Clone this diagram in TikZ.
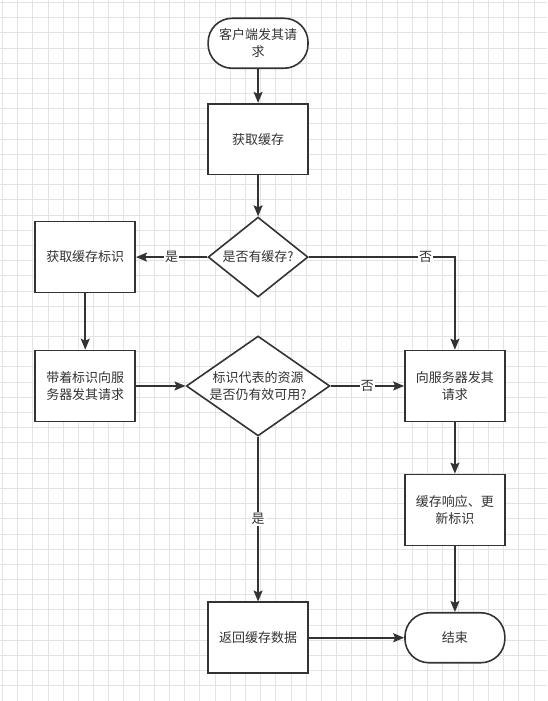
\documentclass[tikz,border=0pt]{standalone}
\usepackage{fontspec}
\setmainfont{Noto Sans CJK SC}
\usetikzlibrary{shapes.geometric, arrows.meta, positioning}
\definecolor{linegray}{HTML}{333333}
\definecolor{gridgray}{HTML}{E3E3E3}
\tikzset{
    % Flowchart Styles
    startstop/.style={rectangle, rounded corners=24pt, minimum width=100pt, minimum height=50pt, text centered, align=center, draw=linegray, line width=1.6pt, fill=white},
    process/.style={rectangle, minimum width=100pt, minimum height=71pt, text centered, align=center, draw=linegray, line width=1.6pt, fill=white},
    decision/.style={diamond, inner sep=0pt, text centered, align=center, draw=linegray, line width=1.6pt, fill=white},
    arrow/.style={line width=1.6pt, draw=linegray, -{Stealth[length=11pt, width=9pt, inset=2pt]}},
    lbl/.style={fill=white, inner sep=1pt, text=linegray}
}

\begin{document}
\begin{tikzpicture}[x=1pt, y=-1pt, every node/.style={text=linegray, font=\fontsize{13}{17}\selectfont}]
        \fill[white] (0,0) rectangle (547,701);
        \draw[gridgray, line width=0.6pt, step=15.2pt, shift={(2,2)}] (-2,-2) grid (545,699);
        \useasboundingbox (0,0) rectangle (547,701);

        \node (start) [startstop] at (258,43) {客户端发其请\\求};
        \node (fetch) [process] at (258,139) {获取缓存};
        \node (hascache) [decision, aspect=1.4, minimum width=100pt, minimum height=80pt] at (258,257) {是否有缓存?};
        \node (tag) [process] at (85,257) {获取缓存标识};
        \node (withtag) [process] at (85,386) {带着标识向服\\务器发其请求};
        \node (valid) [decision, aspect=1.6, minimum width=143pt, minimum height=100pt] at (258,386) {标识代表的资源\\是否仍有效可用?};
        \node (request) [process] at (455,386) {向服务器发其\\请求};
        \node (update) [process] at (455,510) {缓存响应、更\\新标识};
        \node (back) [process] at (258,638) {返回缓存数据};
        \node (stop) [startstop] at (455,638) {结束};

        \draw [arrow] (start) -- (fetch);
        \draw [arrow] (fetch) -- (hascache);
        \draw [arrow] (hascache) -- node[lbl] {是} (tag);
        \draw [arrow] (hascache) -| node[lbl, pos=0.4] {否} (request);
        \draw [arrow] (tag) -- (withtag);
        \draw [arrow] (withtag) -- (valid);
        \draw [arrow] (valid) -- node[lbl] {否} (request);
        \draw [arrow] (valid) -- node[lbl] {是} (back);
        \draw [arrow] (request) -- (update);
        \draw [arrow] (update) -- (stop);
        \draw [arrow] (back) -- (stop);
    \end{tikzpicture}
\end{document}
